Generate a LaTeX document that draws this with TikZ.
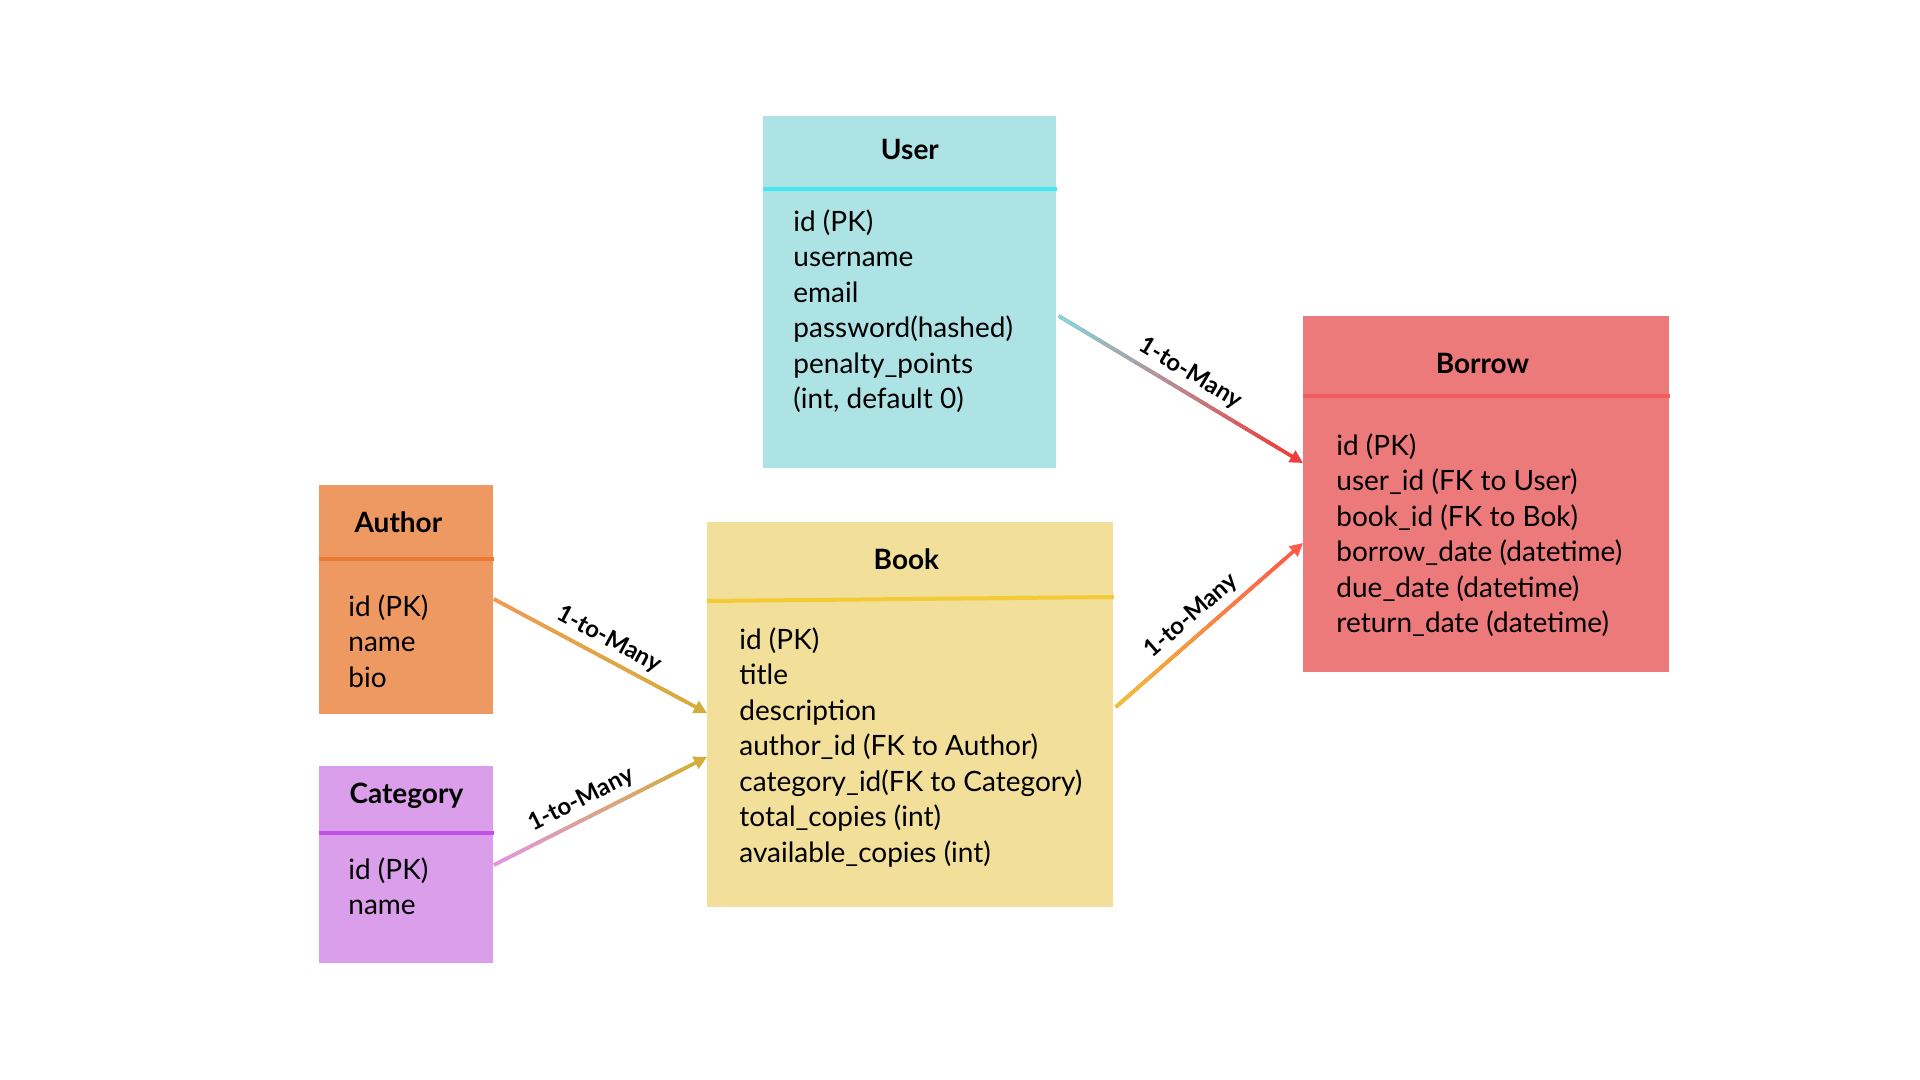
\documentclass[tikz,border=0pt]{standalone}
\usepackage{fontspec}
\setmainfont{Lato}
\usepackage{xcolor}
\usetikzlibrary{arrows.meta,positioning,calc}
\definecolor{userfill}{HTML}{ADE3E4}
\definecolor{userrule}{HTML}{44E8F2}
\definecolor{borrowfill}{HTML}{EC7A7A}
\definecolor{borrowrule}{HTML}{F25C5C}
\definecolor{authorfill}{HTML}{EE9962}
\definecolor{authorrule}{HTML}{EE7A32}
\definecolor{catfill}{HTML}{DA9EEB}
\definecolor{catrule}{HTML}{C24FE8}
\definecolor{bookfill}{HTML}{F1DF9A}
\definecolor{bookrule}{HTML}{F2CB35}
\definecolor{cyanend}{HTML}{7DD8E2}
\definecolor{redend}{HTML}{EE3F3F}
\definecolor{yellowend}{HTML}{F0C030}
\definecolor{coralend}{HTML}{FF5B4B}
\definecolor{orangeend}{HTML}{F29A55}
\definecolor{goldend}{HTML}{D4AE3A}
\definecolor{pinkend}{HTML}{E394E8}
\tikzset{
  tablebox/.style={rectangle, inner sep=0pt, anchor=north west},
  tabletitle/.style={font=\fontsize{14}{16}\selectfont\bfseries, inner sep=0pt, anchor=base},
  tablefields/.style={font=\fontsize{14}{17.75}\selectfont, align=left, inner sep=0pt, anchor=north west},
  tablerule/.style={line width=2pt},
  linkline/.style={line width=1.8pt},
  linklabel/.style={font=\fontsize{12}{14}\selectfont\bfseries, sloped, above, inner sep=3pt}
}
\newcommand{\onetomany}[5]{%
  \draw[linkline, draw=#4, -{Triangle[length=6.5pt,width=6.5pt]}] (#1) -- (#2) node[linklabel, pos=#5] {1-to-Many};
  \foreach \k in {0,...,19}{%
    \pgfmathtruncatemacro{\mixpct}{100-5*\k}%
    \draw[linkline, draw=#3!\mixpct!#4] ($(#1)!\k*0.045!(#2)$) -- ($(#1)!\k*0.045+0.05!(#2)$);
  }%
}
\begin{document}
\begin{tikzpicture}[x=0.5pt, y=-0.5pt]
\useasboundingbox[fill=white] (0,0) rectangle (1920,1080);
% tables
\node[tablebox, fill=userfill, minimum width=146.5pt, minimum height=176pt] (user) at (763,116) {};
\node[tablebox, fill=borrowfill, minimum width=183pt, minimum height=178pt] (borrow) at (1303,316) {};
\node[tablebox, fill=authorfill, minimum width=87pt, minimum height=114.5pt] (author) at (319,485) {};
\node[tablebox, fill=catfill, minimum width=87pt, minimum height=98.5pt] (category) at (319,766) {};
\node[tablebox, fill=bookfill, minimum width=203pt, minimum height=192.5pt] (book) at (707,522) {};
% title rules
\draw[tablerule, draw=userrule] ($(user.north west)+(0,73)$) -- ($(user.north east)+(0,73)$);
\draw[tablerule, draw=borrowrule] ($(borrow.north west)+(0,80)$) -- ($(borrow.north east)+(0,80)$);
\draw[tablerule, draw=authorrule] ($(author.north west)+(0,74)$) -- ($(author.north east)+(0,74)$);
\draw[tablerule, draw=catrule] ($(category.north west)+(0,67)$) -- ($(category.north east)+(0,67)$);
\draw[tablerule, draw=bookrule] ($(book.north west)+(0,79)$) -- ($(book.north east)+(0,75)$);
% titles
\node[tabletitle] (usertitle) at ($(user.north)+(0,44)$) {User};
\node[tabletitle] (borrowtitle) at ($(borrow.north)+(-4,57)$) {Borrow};
\node[tabletitle] (authortitle) at ($(author.north)+(-8,47)$) {Author};
\node[tabletitle] (cattitle) at ($(category.north)+(0,37)$) {Category};
\node[tabletitle] (booktitle) at ($(book.north)+(-4,47)$) {Book};
% fields
\node[tablefields] (userfields) at ($(user.north west)+(30,93)$)
  {id (PK)\\username\\email\\password(hashed)\\penalty\_points\\(int, default 0)};
\node[tablefields] (borrowfields) at ($(borrow.north west)+(33,117)$)
  {id (PK)\\user\_id (FK to User)\\book\_id (FK to Bok)\\borrow\_date (datetime)\\due\_date (datetime)\\return\_date (datetime)};
\node[tablefields] (authorfields) at ($(author.north west)+(29,109)$)
  {id (PK)\\name\\bio};
\node[tablefields] (catfields) at ($(category.north west)+(29,91)$)
  {id (PK)\\name};
\node[tablefields] (bookfields) at ($(book.north west)+(32,105)$)
  {id (PK)\\title\\description\\author\_id (FK to Author)\\category\_id(FK to Category)\\total\_copies (int)\\available\_copies (int)};
% relations
\coordinate (userout) at ($(user.north east)+(2,200)$);
\coordinate (borrowin1) at ($(borrow.north west)+(0,147)$);
\coordinate (bookout) at ($(book.north east)+(2,185)$);
\coordinate (borrowin2) at ($(borrow.north west)+(0,227)$);
\coordinate (authorout) at ($(author.north east)+(0,114)$);
\coordinate (bookin1) at ($(book.north west)+(0,191)$);
\coordinate (catout) at ($(category.north east)+(0,99)$);
\coordinate (bookin2) at ($(book.north west)+(0,235)$);
\onetomany{userout}{borrowin1}{cyanend}{redend}{0.5}
\onetomany{bookout}{borrowin2}{yellowend}{coralend}{0.47}
\onetomany{authorout}{bookin1}{orangeend}{goldend}{0.5}
\onetomany{catout}{bookin2}{pinkend}{goldend}{0.45}
\end{tikzpicture}
\end{document}
